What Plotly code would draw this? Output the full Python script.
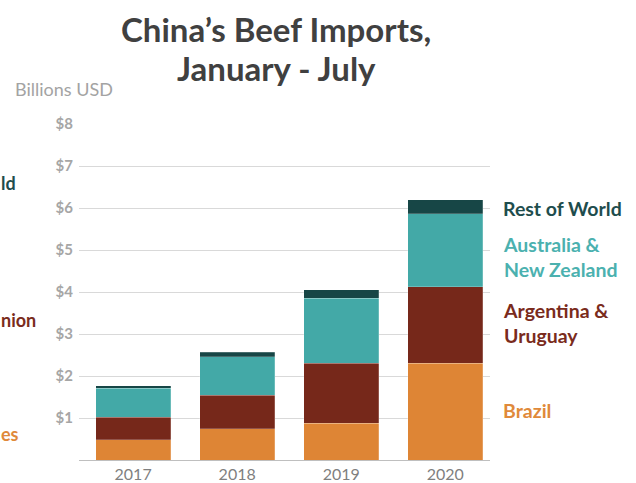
import plotly.graph_objects as go

# China's beef imports, January-July, billions of USD
years = ["2017", "2018", "2019", "2020"]
brazil = [0.48, 0.74, 0.87, 2.30]
argentina_uruguay = [0.54, 0.80, 1.43, 1.83]
australia_nz = [0.69, 0.92, 1.55, 1.73]
rest_of_world = [0.06, 0.10, 0.20, 0.34]

y_ticks = [1, 2, 3, 4, 5, 6, 7, 8]
y_tick_text = ["$1", "$2", "$3", "$4", "$5", "$6", "$7", "$8"]

series = [
    ("Brazil", brazil, "#DE8535"),
    ("Argentina & Uruguay", argentina_uruguay, "#76281A"),
    ("Australia & New Zealand", australia_nz, "#43A9A7"),
    ("Rest of World", rest_of_world, "#174646"),
]

W, H = 636, 483
ML, MR, MT, MB = 79, 146, 124, 23
PW, PH = W - ML - MR, H - MT - MB
FONT = "Lato"


def px_x(px):
    """Page pixel column -> paper x."""
    return (px - ML) / PW


def px_y(px):
    """Page pixel row -> paper y."""
    return (H - MB - px) / PH


fig = go.Figure()
for name, vals, color in series:
    fig.add_trace(go.Bar(
        x=years, y=vals, name=name,
        marker=dict(color=color, line=dict(color="rgba(255,255,255,0.35)", width=0.6)),
        showlegend=False,
    ))

annotations = []

# title
for text, ypx in [("China’s Beef Imports,", 29), ("January - July", 68)]:
    annotations.append(dict(
        x=px_x(276), xref="paper", y=px_y(ypx), yref="paper",
        text=text, showarrow=False, xanchor="center", yanchor="middle",
        font=dict(family=FONT, size=33, color="#404040", weight="bold"),
    ))

# series labels to the right of the 2020 stack
for text, color, ypx in [
    ("Rest of World", "#1E4D4D", 208),
    ("Australia &<br>New Zealand", "#4BB1AF", 257),
    ("Argentina &<br>Uruguay", "#7A2B1C", 323),
    ("Brazil", "#E0893A", 410),
]:
    annotations.append(dict(
        x=px_x(501), xref="paper", y=px_y(ypx), yref="paper",
        text=text, showarrow=False, xanchor="left", yanchor="middle", align="left",
        font=dict(family=FONT, size=19.5, color=color, weight="bold"),
    ))

# axis caption
annotations.append(dict(
    x=px_x(13), xref="paper", y=px_y(89), yref="paper",
    text="Billions USD", showarrow=False, xanchor="left", yanchor="middle",
    font=dict(family=FONT, size=18, color="#A3A3A3"),
))

# label tails of the neighbouring panel at the page's left edge
for text, color, ypx in [
    ("ld", "#1E4D4D", 183),
    ("nion", "#7A2B1C", 320),
    ("es", "#E0893A", 434),
]:
    annotations.append(dict(
        x=px_x(0), xref="paper", y=px_y(ypx), yref="paper",
        text=text, showarrow=False, xanchor="left", yanchor="middle",
        borderpad=0,
        font=dict(family=FONT, size=18, color=color, weight="bold"),
    ))

fig.update_layout(
    width=W, height=H,
    margin=dict(l=ML, r=MR, t=MT, b=MB, pad=0, autoexpand=False),
    paper_bgcolor="white", plot_bgcolor="white",
    barmode="stack", bargap=0.28,
    xaxis=dict(
        range=[-0.52, 3.43], showgrid=False, showline=True, linecolor="#BFBFBF", linewidth=1,
        ticks="", automargin=False, ticklabelstandoff=0,
        tickfont=dict(family=FONT, size=16, color="#7F7F7F"),
    ),
    yaxis=dict(
        range=[0, 8], tickvals=y_ticks, ticktext=y_tick_text,
        showgrid=True, gridcolor="#D9D9D9", gridwidth=1, zeroline=False,
        ticks="", ticklabelstandoff=5, automargin=False,
        tickfont=dict(family=FONT, size=15, color="#A6A6A6", weight="bold"),
    ),
    annotations=annotations,
)

fig.write_html("out.html")
